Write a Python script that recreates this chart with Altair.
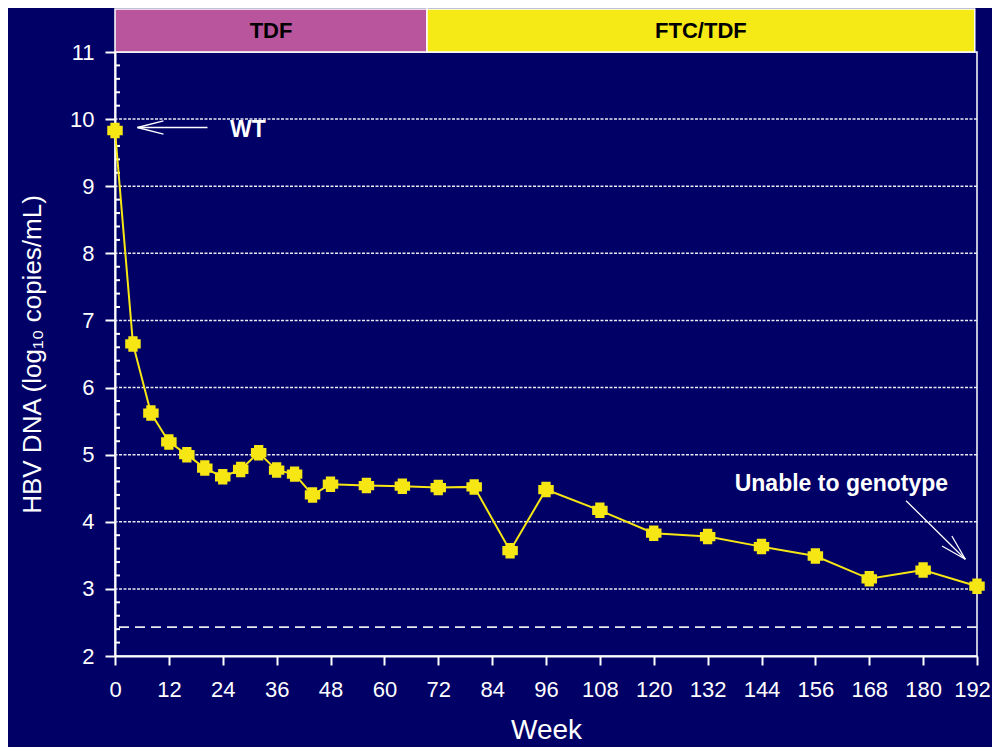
import altair as alt
import pandas as pd

# ---- data ----
weeks = [0, 4, 8, 12, 16, 20, 24, 28, 32, 36, 40, 44, 48, 56, 64, 72, 80, 88, 96,
         108, 120, 132, 144, 156, 168, 180, 192]
hbv = [9.83, 6.65, 5.62, 5.19, 5.00, 4.80, 4.67, 4.78, 5.03, 4.77, 4.71, 4.40, 4.56,
       4.54, 4.53, 4.51, 4.52, 3.57, 4.48, 4.17, 3.83, 3.78, 3.63, 3.49, 3.15, 3.28, 3.04]

phase_names = ["TDF", "FTC/TDF"]
phase_start = [0, 69.5]
phase_end = [69.5, 191.5]
phase_colors = ["#b8559c", "#f5ea16"]
phase_band = [11.0, 11.64]

x_ticks = [0, 12, 24, 36, 48, 60, 72, 84, 96, 108, 120, 132, 144, 156, 168, 180, 192]
y_ticks = [2, 3, 4, 5, 6, 7, 8, 9, 10, 11]
grid_values = [3, 4, 5, 6, 7, 8, 9, 10]
minor_ticks = [round(2 + 0.2 * i, 1) for i in range(46) if i % 5 != 0]
lod_value = [2.43]

ann_text = ["WT", "Unable to genotype"]
ann_x = [25.6, 161.8]
ann_y = [9.84, 4.56]

# arrow segments (x, y, x2, y2) in data units
seg_x = [20.6, 5.0, 5.0, 176.2, 189.4, 189.4]
seg_y = [9.875, 9.875, 9.875, 4.314, 3.441, 3.441]
seg_x2 = [5.0, 10.8, 10.8, 189.4, 186.4, 184.2]
seg_y2 = [9.875, 9.972, 9.778, 3.441, 3.788, 3.639]

BG = "#000066"
YEL = "#f5e614"
WHITE = "#ffffff"
FONT = "Liberation Sans"

df = pd.DataFrame({"week": weeks, "hbv": hbv})
phases = pd.DataFrame({"name": phase_names, "start": phase_start, "end": phase_end,
                       "lo": phase_band[0], "hi": phase_band[1]})
phases["mid"] = (phases["start"] + phases["end"]) / 2
phases["ymid"] = (phases["lo"] + phases["hi"]) / 2
grid_df = pd.DataFrame({"y": grid_values})
minor_df = pd.DataFrame({"y": minor_ticks})
lod_df = pd.DataFrame({"y": lod_value})
ann_df = pd.DataFrame({"t": ann_text, "x": ann_x, "y": ann_y})
seg_df = pd.DataFrame({"x": seg_x, "y": seg_y, "x2": seg_x2, "y2": seg_y2})

xscale = alt.Scale(domain=[0, 192], nice=False, zero=False)
yscale = alt.Scale(domain=[2, 11], nice=False, zero=False)

XT = "Week"
YT = "HBV DNA (log\u2081\u2080 copies/mL)"
xaxis = alt.Axis(values=x_ticks, title=XT, grid=False, tickSize=9, tickWidth=2,
                 tickColor=WHITE, domainColor=WHITE, domainWidth=2,
                 labelFont=FONT, labelFontSize=22, labelColor=WHITE, labelPadding=14,
                 labelOffset={"condition": {"test": "datum.value == 192", "value": -5}, "value": 0},
                 labelFlush=False, titleFont=FONT, titleFontSize=28, titleFontWeight="normal",
                 titleColor=WHITE, titlePadding=16)
yaxis = alt.Axis(values=y_ticks, title=YT, grid=False,
                 tickSize=10, tickWidth=2, tickColor=WHITE, domainColor=WHITE, domainWidth=2,
                 labelFont=FONT, labelFontSize=22, labelColor=WHITE, labelPadding=11,
                 labelFlush=False, titleFont=FONT, titleFontSize=26, titleFontWeight="normal",
                 titleColor=WHITE, titlePadding=24)


def X(field):
    return alt.X(field, scale=xscale, axis=xaxis, title=XT)


def Y(field):
    return alt.Y(field, scale=yscale, axis=yaxis, title=YT)


grid = alt.Chart(grid_df).mark_rule(color="#e8e8f0", strokeWidth=1.5, strokeDash=[3, 1.5]).encode(
    y=Y("y:Q"))
lod = alt.Chart(lod_df).mark_rule(color="#e8e8f0", strokeWidth=1.8, strokeDash=[10, 6]).encode(
    y=Y("y:Q"))
minor = alt.Chart(minor_df).mark_rule(color=WHITE, strokeWidth=2).encode(
    y=Y("y:Q"), x=alt.value(0), x2=alt.value(5))

bars = alt.Chart(phases).mark_rect(stroke=WHITE, strokeWidth=1.5, clip=False).encode(
    x=X("start:Q"), x2="end:Q",
    y=Y("lo:Q"), y2="hi:Q",
    fill=alt.Fill("name:N", scale=alt.Scale(domain=phase_names, range=phase_colors), legend=None))
bar_text = alt.Chart(phases).mark_text(font=FONT, fontSize=22, fontWeight="bold", color="black",
                                       baseline="middle", align="center").encode(
    x=X("mid:Q"), y=Y("ymid:Q"), text="name:N")

line = alt.Chart(df).mark_line(color=YEL, strokeWidth=2).encode(
    x=X("week:Q"), y=Y("hbv:Q"))
pts = alt.Chart(df).mark_point(
    shape="M-1,-0.6L-0.6,-0.6L-0.6,-1L0.6,-1L0.6,-0.6L1,-0.6L1,0.6L0.6,0.6L0.6,1L-0.6,1L-0.6,0.6L-1,0.6Z",
    size=240, filled=True, color=YEL, opacity=1).encode(
    x=X("week:Q"), y=Y("hbv:Q"))

segs = alt.Chart(seg_df).mark_rule(color=WHITE, strokeWidth=1.3).encode(
    x=X("x:Q"), y=Y("y:Q"), x2="x2:Q", y2="y2:Q")
ann_wt = alt.Chart(ann_df.iloc[[0]]).mark_text(font=FONT, fontSize=23, fontWeight="bold", color=WHITE,
                                               align="left", baseline="middle").encode(
    x=X("x:Q"), y=Y("y:Q"), text="t:N")
ann_ug = alt.Chart(ann_df.iloc[[1]]).mark_text(font=FONT, fontSize=23, fontWeight="bold", color=WHITE,
                                               align="center", baseline="middle").encode(
    x=X("x:Q"), y=Y("y:Q"), text="t:N")

chart = alt.layer(grid, lod, minor, line, pts, segs, ann_wt, ann_ug, bars, bar_text).properties(
    width=862, height=604,
    background=BG,
    padding={"left": 107, "top": 44, "right": 15, "bottom": 91},
    autosize=alt.AutoSizeParams(type="none"),
).configure_view(stroke=WHITE, strokeWidth=1.5)

chart.save("out.html", embed_options={"renderer": "svg", "actions": False})
